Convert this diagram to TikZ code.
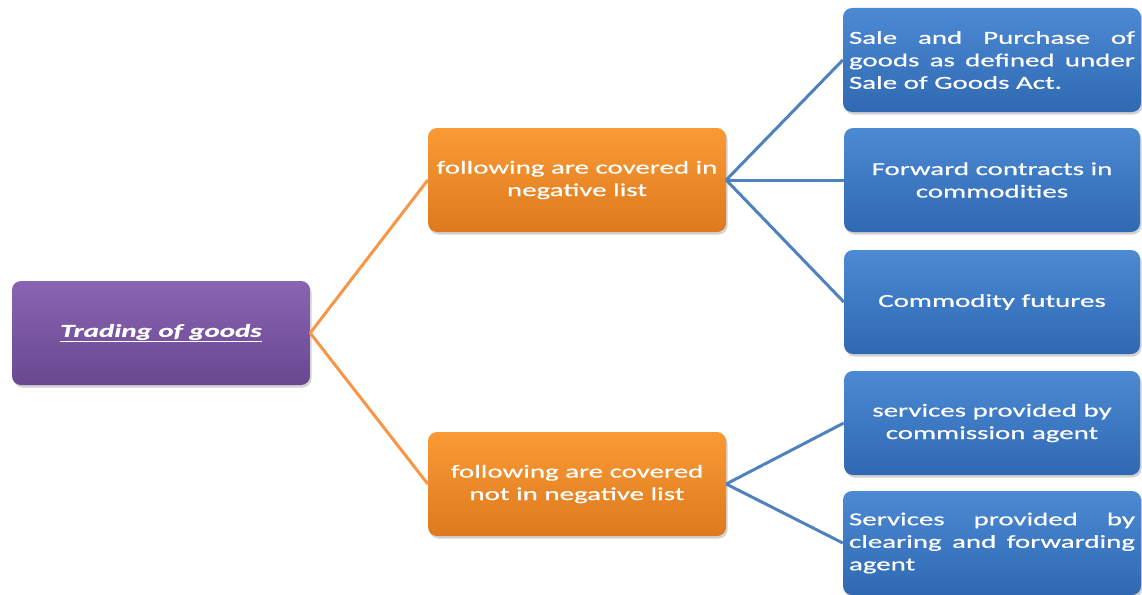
\documentclass[tikz,border=0pt]{standalone}
\usepackage{fontspec}
\setmainfont{Carlito}[FakeStretch=1.58, FakeBold=0.6]
\usetikzlibrary{shadows}
\definecolor{purpT}{HTML}{8964B3}
\definecolor{purpB}{HTML}{6A4890}
\definecolor{orT}{HTML}{FA9A35}
\definecolor{orB}{HTML}{DD7A1E}
\definecolor{blT}{HTML}{4C8AD3}
\definecolor{blB}{HTML}{2F69B2}
\definecolor{orLine}{HTML}{F79646}
\definecolor{blLine}{HTML}{4F81BD}
\tikzset{
  box/.style={rounded corners=9pt, minimum width=298pt, minimum height=104pt,
    text=white, align=center, inner sep=6pt,
    font=\fontsize{18.3}{22.5}\selectfont,
    drop shadow={opacity=0.35, shadow xshift=1.5pt, shadow yshift=-2.5pt}},
  purplebox/.style={box, top color=purpT, bottom color=purpB},
  orangebox/.style={box, top color=orT, bottom color=orB},
  bluebox/.style={box, top color=blT, bottom color=blB, minimum width=296pt},
  jtext/.style={text width=286pt, align=justify},
  oline/.style={draw=orLine, line width=3pt},
  bline/.style={draw=blLine, line width=3pt},
}
\begin{document}
\begin{tikzpicture}[x=1pt,y=-1pt]
\useasboundingbox (0,0) rectangle (1142,594);
\node[purplebox] (root) at (161,333) {\textbf{\textit{\underline{Trading of goods}}}};
\node[orangebox] (neg) at (577,180) {following are covered in\\negative list};
\node[orangebox] (notneg) at (577,484) {following are covered\\not in negative list};
\node[bluebox, jtext] (b1) at (992,60) {Sale and Purchase of\linebreak goods as defined under\linebreak Sale of Goods Act.};
\node[bluebox] (b2) at (992,180) {Forward contracts in\\commodities};
\node[bluebox] (b3) at (992,302) {Commodity futures};
\node[bluebox] (b4) at (992,423) {services provided by\\commission agent};
\node[bluebox, jtext] (b5) at (992,543) {Services provided by\linebreak clearing and forwarding\linebreak agent};
\draw[oline] (root.east) -- (neg.west);
\draw[oline] (root.east) -- (notneg.west);
\draw[bline] (neg.east) -- (b1.west);
\draw[bline] (neg.east) -- (b2.west);
\draw[bline] (neg.east) -- (b3.west);
\draw[bline] (notneg.east) -- (b4.west);
\draw[bline] (notneg.east) -- (b5.west);
\end{tikzpicture}
\end{document}
